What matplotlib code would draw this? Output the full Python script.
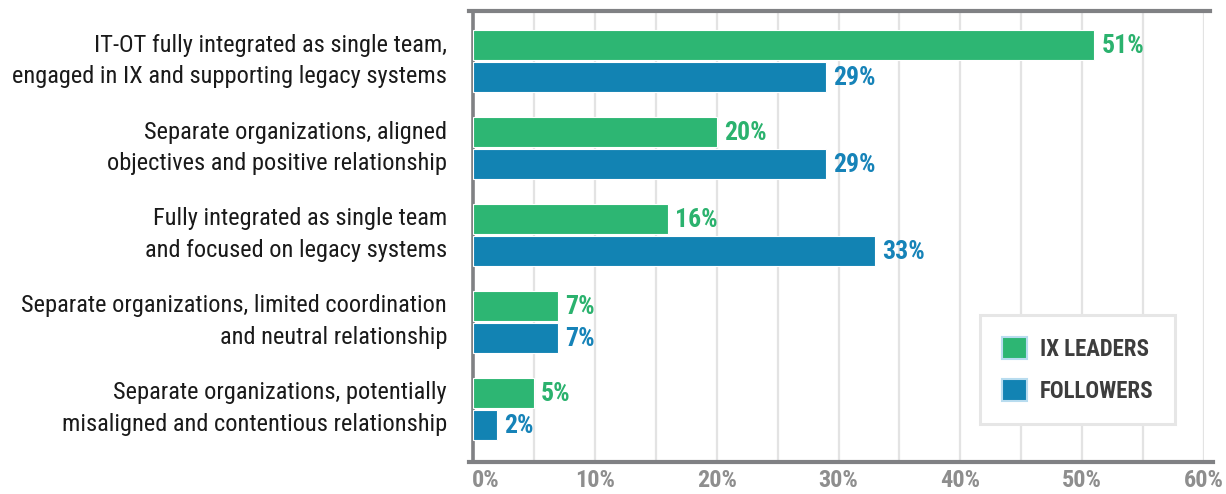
import matplotlib
matplotlib.use('Agg')
import matplotlib.pyplot as plt
from matplotlib import font_manager
from matplotlib.patches import Patch
from matplotlib.lines import Line2D
import numpy as np

categories = [
    'IT-OT fully integrated as single team,\nengaged in IX and supporting legacy systems',
    'Separate organizations, aligned\nobjectives and positive relationship',
    'Fully integrated as single team\nand focused on legacy systems',
    'Separate organizations, limited coordination\nand neutral relationship',
    'Separate organizations, potentially\nmisaligned and contentious relationship',
]
leaders = [51, 20, 16, 7, 5]
followers = [29, 29, 33, 7, 2]
series_names = ['IX LEADERS', 'FOLLOWERS']
x_ticks = [0, 10, 20, 30, 40, 50, 60]

GREEN = '#2db673'
BLUE = '#1283b3'
GREEN_TXT = '#2bb26e'
BLUE_TXT = '#1683b8'
AXIS_GRAY = '#808184'
GRID_GRAY = '#e3e3e3'

names = {f.name for f in font_manager.fontManager.ttflist}
FONT = 'Roboto Condensed' if 'Roboto Condensed' in names else 'DejaVu Sans'
plt.rcParams['font.family'] = FONT

W, H = 1226, 494
fig = plt.figure(figsize=(W / 100, H / 100), dpi=100)
ax = fig.add_axes([473 / W, 1 - 461.5 / H, 731 / W, 450.5 / H])

y = np.arange(len(categories))
h = 0.345
off = 0.184
ax.barh(y - off, leaders, height=h, color=GREEN, edgecolor='white', linewidth=0.8, zorder=3)
ax.barh(y + off, followers, height=h, color=BLUE, edgecolor='white', linewidth=0.8, zorder=3)

for yi, v in zip(y, leaders):
    ax.annotate(f'{v}%', (v, yi - off), xytext=(7, -1), textcoords='offset pixels',
                color=GREEN_TXT, fontsize=18.5, fontweight='bold', va='center', ha='left', zorder=4)
for yi, v in zip(y, followers):
    ax.annotate(f'{v}%', (v, yi + off), xytext=(7, -1), textcoords='offset pixels',
                color=BLUE_TXT, fontsize=18.5, fontweight='bold', va='center', ha='left', zorder=4)

ax.set_xlim(0, 60)
ax.set_ylim(4.609, -0.575)

ax.set_xticks(np.arange(0, 61, 5))
ax.grid(axis='x', color=GRID_GRAY, linewidth=1.6, zorder=0)
ax.set_axisbelow(True)
ax.set_xticklabels([])
ax.tick_params(axis='x', length=0)
ax.set_yticks([])

# x tick labels drawn by hand so the first one can sit flush with the axis
for t in x_ticks:
    ax.annotate(f'{t}%', (t, 0), xycoords=('data', 'axes fraction'),
                xytext=(-1 if t == 0 else 0, -19), textcoords='offset pixels',
                ha='left' if t == 0 else 'center', va='center',
                fontsize=17.5, fontweight='bold', color='#8e8e8e')

for yi, c in zip(y, categories):
    ax.annotate(c, (0, yi), xytext=(-26, 0), textcoords='offset pixels',
                ha='right', va='center', fontsize=17.6, color='#1a1a1a', linespacing=1.48)

for side in ['right', 'top', 'bottom']:
    ax.spines[side].set_visible(False)
ax.spines['left'].set_color(AXIS_GRAY)
ax.spines['left'].set_linewidth(2.6)

# frame lines run slightly past the plotting area
ax.add_line(Line2D([-4 / 731, 1 + 6 / 731], [1, 1], transform=ax.transAxes,
                   color=AXIS_GRAY, linewidth=3, clip_on=False, zorder=5))
ax.add_line(Line2D([-4 / 731, 1 + 9 / 731], [0, 0], transform=ax.transAxes,
                   color=AXIS_GRAY, linewidth=3, clip_on=False, zorder=5))

handles = [Patch(facecolor=GREEN, edgecolor='#b8dcef', linewidth=1.5),
           Patch(facecolor=BLUE, edgecolor='#b8dcef', linewidth=1.5)]
leg = ax.legend(handles, series_names, loc='upper left',
                bbox_to_anchor=(980 / W, 1 - 315 / H), bbox_transform=fig.transFigure,
                frameon=True, fancybox=False, fontsize=16.5, handlelength=1.1, handleheight=1.1,
                borderpad=0.95, labelspacing=0.8, handletextpad=0.55, borderaxespad=0)
frame = leg.get_frame()
frame.set_edgecolor('#e6e6e6')
frame.set_linewidth(2.2)
frame.set_facecolor('white')
frame.set_alpha(1)
for t in leg.get_texts():
    t.set_fontweight('bold')
    t.set_color('#3d3d3d')
leg.set_zorder(6)

fig.savefig('out.png', dpi=100)
